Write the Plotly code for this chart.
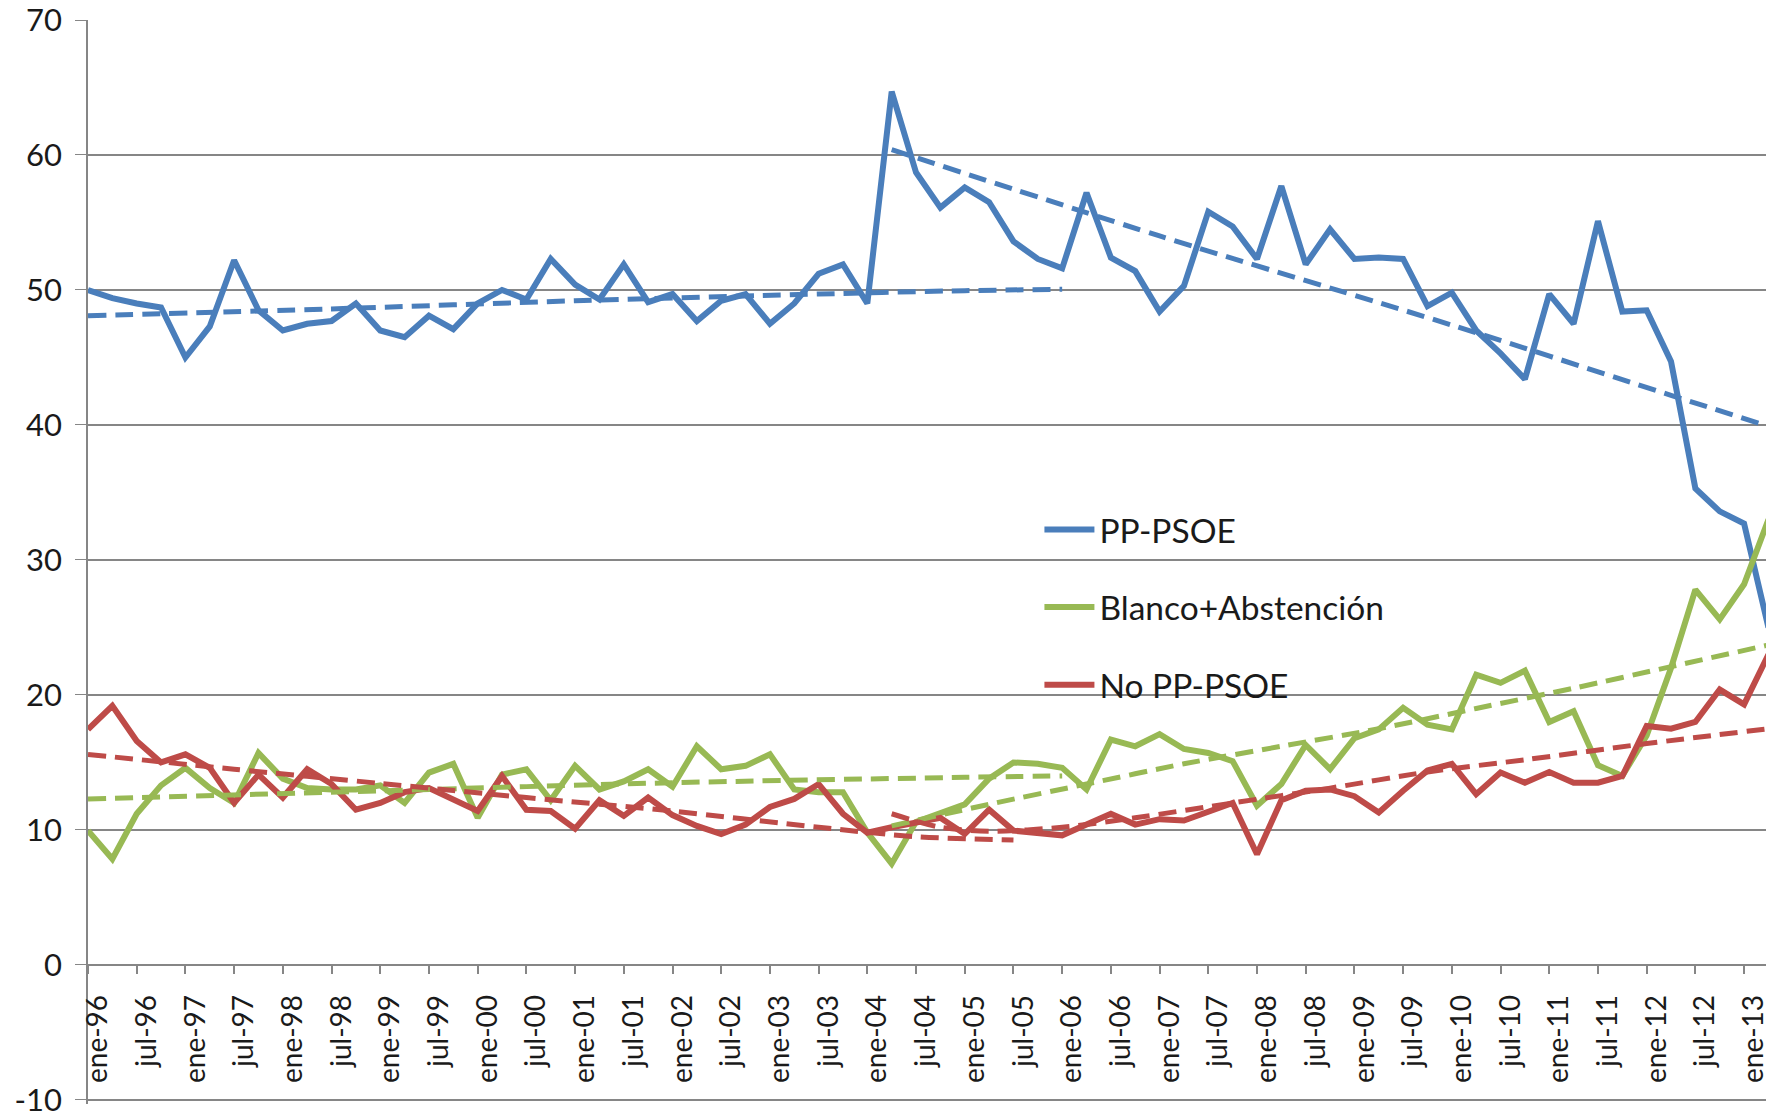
import plotly.graph_objects as go

# ---------------- data ----------------
years = ["96", "97", "98", "99", "00", "01", "02", "03", "04", "05",
         "06", "07", "08", "09", "10", "11", "12", "13"]
months = ["ene", "abr", "jul", "oct"]
periods = [m + "-" + y for y in years for m in months]

tick_labels = ["ene-96", "jul-96", "ene-97", "jul-97", "ene-98", "jul-98", "ene-99", "jul-99",
               "ene-00", "jul-00", "ene-01", "jul-01", "ene-02", "jul-02", "ene-03", "jul-03",
               "ene-04", "jul-04", "ene-05", "jul-05", "ene-06", "jul-06", "ene-07", "jul-07",
               "ene-08", "jul-08", "ene-09", "jul-09", "ene-10", "jul-10", "ene-11", "jul-11",
               "ene-12", "jul-12", "ene-13"]

y_tick_vals = [-10, 0, 10, 20, 30, 40, 50, 60, 70]
y_tick_text = ["-10", "0", "10", "20", "30", "40", "50", "60", "70"]

pp_psoe = [50.0, 49.4, 49.0, 48.7, 45.0, 47.3, 52.2, 48.5, 47.0, 47.5,
           47.7, 49.0, 47.0, 46.5, 48.1, 47.1, 49.0, 50.0, 49.3, 52.3,
           50.4, 49.3, 51.9, 49.1, 49.7, 47.7, 49.2, 49.7, 47.5, 49.0,
           51.2, 51.9, 49.0, 64.7, 58.7, 56.1, 57.6, 56.5, 53.6, 52.3,
           51.6, 57.2, 52.4, 51.4, 48.4, 50.3, 55.8, 54.7, 52.3, 57.7,
           51.9, 54.5, 52.3, 52.4, 52.3, 48.8, 49.8, 47.0, 45.3, 43.4,
           49.7, 47.5, 55.1, 48.4, 48.5, 44.7, 35.3, 33.6, 32.7, 25.0]

blanco_abst = [9.95, 7.85, 11.2, 13.3, 14.6, 13.1, 12.0, 15.7, 13.8, 13.1,
               13.0, 13.0, 13.3, 12.0, 14.25, 14.9, 10.9, 14.1, 14.5, 12.2,
               14.75, 13.0, 13.6, 14.5, 13.2, 16.2, 14.5, 14.75, 15.6, 13.0,
               12.8, 12.8, 9.8, 7.5, 10.6, 11.2, 11.9, 13.8, 15.0, 14.9,
               14.6, 13.0, 16.7, 16.2, 17.1, 16.0, 15.7, 15.1, 11.8, 13.4,
               16.3, 14.5, 16.8, 17.45, 19.05, 17.8, 17.45, 21.5, 20.9, 21.8,
               18.0, 18.8, 14.8, 14.0, 17.0, 22.0, 27.8, 25.6, 28.2, 33.0]

no_pp_psoe = [17.45, 19.2, 16.6, 15.0, 15.6, 14.6, 12.0, 14.1, 12.4, 14.5,
              13.4, 11.5, 12.0, 12.8, 13.1, 12.3, 11.4, 14.0, 11.5, 11.4,
              10.1, 12.2, 11.05, 12.4, 11.1, 10.3, 9.7, 10.4, 11.7, 12.3,
              13.4, 11.2, 9.8, 10.2, 10.5, 10.9, 9.7, 11.5, 9.95, 9.8,
              9.6, 10.4, 11.2, 10.4, 10.8, 10.7, 11.4, 12.0, 8.2, 12.2,
              12.9, 13.0, 12.5, 11.3, 12.9, 14.4, 14.9, 12.65, 14.25, 13.5,
              14.3, 13.5, 13.5, 14.0, 17.7, 17.5, 18.0, 20.4, 19.3, 23.0]

# trend lines (values at a few periods)
blue_trend1_x = ["ene-96", "jul-98", "ene-01", "jul-03", "ene-05", "ene-06"]
blue_trend1_y = [48.1, 48.6, 49.2, 49.7, 49.95, 50.05]
blue_trend2_x = ["abr-04", "ene-07", "ene-10", "abr-12", "abr-13"]
blue_trend2_y = [60.4, 54.0, 47.4, 42.2, 39.9]

green_trend1_x = ["ene-96", "ene-99", "ene-02", "ene-05", "ene-06"]
green_trend1_y = [12.3, 12.9, 13.5, 13.9, 14.0]
green_trend2_x = ["abr-04", "abr-05", "abr-06", "abr-07", "abr-08", "abr-09",
                  "abr-10", "abr-11", "abr-12", "abr-13"]
green_trend2_y = [10.3, 11.9, 13.4, 14.9, 16.2, 17.5, 19.0, 20.5, 22.1, 23.7]

red_trend1_x = ["ene-96", "jul-97", "ene-99", "jul-00", "ene-02", "jul-03", "jul-04", "jul-05"]
red_trend1_y = [15.6, 14.5, 13.45, 12.4, 11.4, 10.2, 9.5, 9.25]
red_trend2_x = ["abr-04", "oct-04", "abr-05", "ene-06", "oct-06", "oct-07", "oct-08",
                "oct-09", "oct-10", "ene-12", "abr-13"]
red_trend2_y = [11.2, 10.2, 9.9, 10.2, 10.9, 12.0, 13.1, 14.3, 15.2, 16.4, 17.5]

BLUE = "#4A7EBB"
GREEN = "#98B954"
RED = "#BE4B48"
GRID = "#868686"
TEXT = "#1a1a1a"

Y_MIN, Y_MAX = -10.3, 70

fig = go.Figure()

# bottom gridline at the lowest y tick, drawn as a plain line across all periods
fig.add_trace(go.Scatter(
    x=[periods[0], periods[-1]], y=[y_tick_vals[0], y_tick_vals[0]],
    mode="lines", showlegend=False, hoverinfo="skip",
    line=dict(color=GRID, width=1.5),
))

series = [
    ("PP-PSOE", pp_psoe, BLUE, "g1"),
    ("Blanco+Abstención", blanco_abst, GREEN, "g2"),
    ("No PP-PSOE", no_pp_psoe, RED, "g3"),
]
for name, vals, col, grp in series:
    fig.add_trace(go.Scatter(
        x=periods[:len(vals)], y=vals, mode="lines", name=name,
        legendgroup=grp, line=dict(color=col, width=6, shape="linear"),
    ))

trends = [
    (blue_trend1_x, blue_trend1_y, BLUE),
    (blue_trend2_x, blue_trend2_y, BLUE),
    (green_trend1_x, green_trend1_y, GREEN),
    (green_trend2_x, green_trend2_y, GREEN),
    (red_trend1_x, red_trend1_y, RED),
    (red_trend2_x, red_trend2_y, RED),
]
for tx, ty, col in trends:
    fig.add_trace(go.Scatter(
        x=tx, y=ty, mode="lines", showlegend=False, hoverinfo="skip",
        line=dict(color=col, width=5, dash="18px,9px", shape="spline", smoothing=0.8),
    ))

fig.update_layout(
    width=1769, height=1118,
    margin=dict(l=88, r=0, t=20, b=10),
    plot_bgcolor="white", paper_bgcolor="white",
    font=dict(family="Lato, sans-serif", size=28, color=TEXT),
    showlegend=True,
    legend=dict(x=0.567, y=0.556, xanchor="left", yanchor="top",
                bgcolor="rgba(0,0,0,0)", tracegroupgap=31,
                font=dict(size=33.5, color=TEXT), itemwidth=50),
    xaxis=dict(type="category", categoryorder="array", categoryarray=periods,
               range=[0, 68.9], tickmode="array", tickvals=tick_labels, ticktext=tick_labels,
               tickangle=-90, ticks="outside", ticklen=8, tickcolor=GRID, tickwidth=1.5,
               showline=True, linecolor=GRID, linewidth=1.5,
               anchor="free", position=(0 - Y_MIN) / (Y_MAX - Y_MIN),
               showgrid=False, zeroline=False,
               tickfont=dict(size=28, color=TEXT), ticklabelstandoff=10,
               ticklabelshift=10),
    yaxis=dict(range=[Y_MIN, Y_MAX], tickmode="array", tickvals=y_tick_vals, ticktext=y_tick_text,
               showgrid=True, gridcolor=GRID, gridwidth=1.5,
               showline=True, linecolor=GRID, linewidth=1.5, ticks="outside", ticklen=11,
               tickcolor=GRID, zeroline=False, tickfont=dict(size=31, color=TEXT),
               ticklabelstandoff=7, ticklabeloverflow="allow"),
)

fig.write_html("out.html", config={"displayModeBar": False},
               post_script="document.body.style.margin='0';document.body.style.overflow='hidden';")
